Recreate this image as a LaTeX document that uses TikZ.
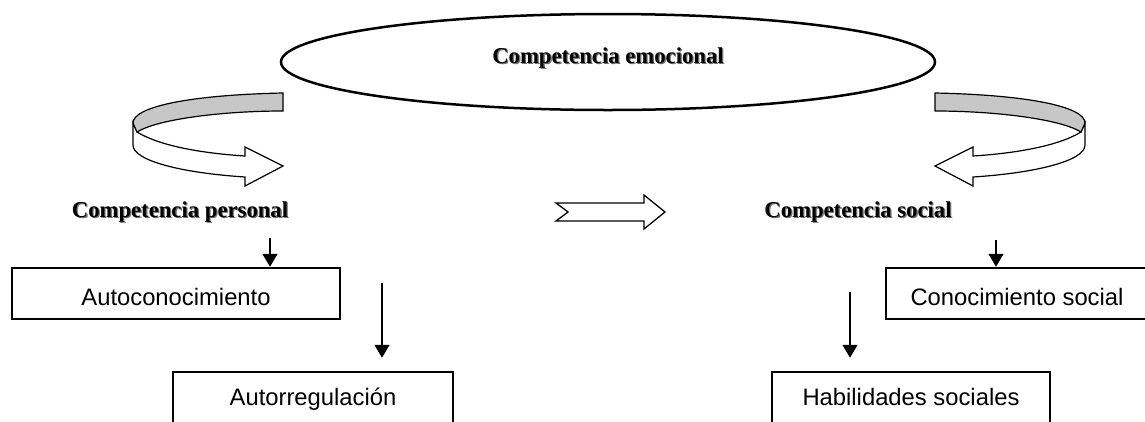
\documentclass[tikz,border=0pt]{standalone}
\usepackage{fontspec}
\setmainfont{Liberation Serif}
\setsansfont{Liberation Sans}
\usetikzlibrary{arrows.meta,shapes.geometric}

\newcommand{\shadowed}[1]{\makebox[0pt][l]{\hspace{1.3pt}\raisebox{-1.3pt}{\textcolor{black!55}{#1}}}#1}

\tikzset{
	title/.style={font=\bfseries\fontsize{22.7}{27}\selectfont, inner sep=0pt, anchor=base},
	box/.style={draw, rectangle, line width=2.5pt, inner sep=0pt, minimum height=51pt,
		font=\sffamily\fontsize{23.8}{28}\selectfont, text height=23pt, text depth=0pt},
	lowbox/.style={box, text height=15pt},
	arr/.style={line width=1.5pt, -{Triangle[length=13pt,width=15pt]}},
	ribbon/.pic={
		\draw[line width=1.2pt, fill=white]
		(-146,39) .. controls (-125,52) and (-85,60) .. (-38,63)
		-- (-38,54) -- (0,73) -- (-38,93) -- (-38,84)
		.. controls (-100,80) and (-150,68) .. (-150,52)
		-- (-150,30) -- cycle;
		\draw[line width=1.2pt, fill=black!22]
		(0,0) .. controls (-95,2) and (-150,14) .. (-150,30)
		-- (-146,39) .. controls (-125,26) and (-60,18) .. (0,18) -- cycle;
	}
}

\begin{document}
\begin{tikzpicture}[x=1pt, y=-1pt]
	\useasboundingbox (0,0) rectangle (1145,421);
	\clip (0,0) rectangle (1145,421);

	% top
	\node[draw, ellipse, line width=2.5pt, minimum width=654pt, minimum height=96pt,
		font=\bfseries\fontsize{22.7}{27}\selectfont, text height=16pt, text depth=14pt]
		(emo) at (608,62) {\shadowed{Competencia emocional}};
	\pic (ribL) at (283,93) {ribbon};
	\pic[xscale=-1] (ribR) at (935,93) {ribbon};

	% branches
	\node[title] (pers) at (180,217) {\shadowed{Competencia personal}};
	\node[title] (soc) at (858,217) {\shadowed{Competencia social}};
	\draw[line width=1.3pt] (556,203) -- (644,203) -- (644,195) -- (665,212)
		-- (644,229) -- (644,221) -- (556,221) -- (568,212) -- cycle;

	% boxes
	\node[box, minimum width=328pt] (auto) at (176,293.5) {Autoconocimiento};
	\node[lowbox, minimum width=280pt] (reg) at (313,397.5) {Autorregulación};
	\node[box, minimum width=262pt] (con) at (1017,293.5) {Conocimiento social};
	\node[lowbox, minimum width=278pt] (hab) at (911,397.5) {Habilidades sociales};

	% arrows
	\coordinate (p1) at (270,238);
	\coordinate (p2) at (382,283);
	\coordinate (p3) at (996,240);
	\coordinate (p4) at (850,292);
	\draw[arr] (p1) -- (p1 |- auto.north);
	\draw[arr] (p2) -- ([yshift=13pt]p2 |- reg.north);
	\draw[arr] (p3) -- (p3 |- con.north);
	\draw[arr] (p4) -- ([yshift=13pt]p4 |- hab.north);
\end{tikzpicture}
\end{document}
